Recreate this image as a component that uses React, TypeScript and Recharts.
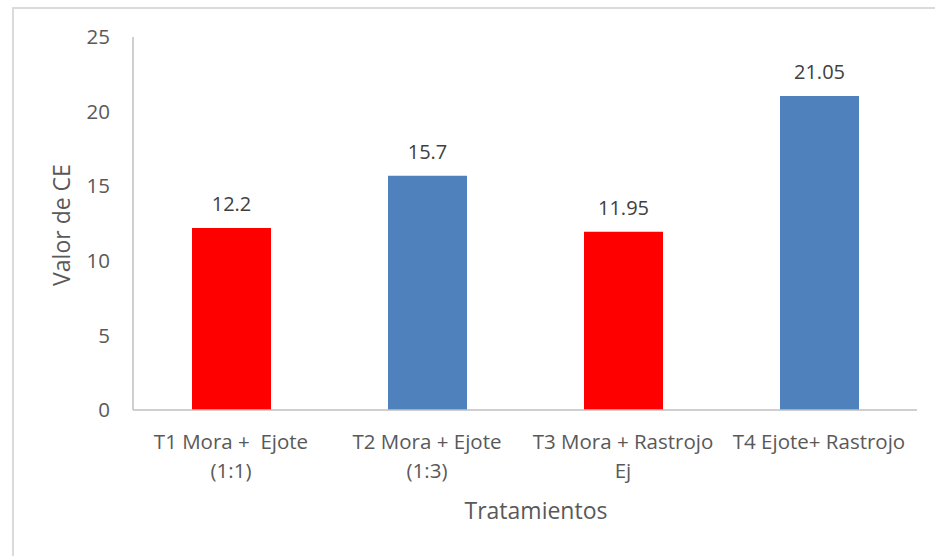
import { BarChart, Bar, XAxis, YAxis, Cell, LabelList, Label } from 'recharts';

const treatments = [
  ['T1 Mora +  Ejote', '(1:1)'],
  ['T2 Mora + Ejote', '(1:3)'],
  ['T3 Mora + Rastrojo', 'Ej'],
  ['T4 Ejote+ Rastrojo'],
];
const ceValues = [12.2, 15.7, 11.95, 21.05];
const yTicks = [0, 5, 10, 15, 20, 25];

const barColors = ['#FF0000', '#4F81BD', '#FF0000', '#4F81BD'];

const data = treatments.map((lines, i) => ({
  name: lines.join(' '),
  lines,
  ce: ceValues[i],
}));

const FONT = '"Open Sans", sans-serif';
const AXIS = '#BFBFBF';
const TICK = '#595959';

function CategoryTick({ x, y, index }: { x: number; y: number; index: number }) {
  const lines = treatments[index] ?? [];
  return (
    <text
      x={x}
      y={y}
      textAnchor="middle"
      fill={TICK}
      fontSize={20.5}
      fontFamily={FONT}
      style={{ whiteSpace: 'pre' }}
    >
      {lines.map((l, i) => (
        <tspan key={i} x={x} y={y + 39 + i * 29}>
          {l}
        </tspan>
      ))}
    </text>
  );
}

export default function App() {
  return (
    <div
      style={{
        position: 'fixed',
        left: 0,
        top: 0,
        width: 935,
        height: 556,
        overflow: 'hidden',
        background: '#fff',
      }}
    >
      <div
        style={{
          position: 'absolute',
          left: 12,
          top: 7,
          width: 1000,
          height: 1000,
          border: '2px solid #DADADA',
        }}
      />
      <div style={{ position: 'absolute', left: 0, top: 0 }}>
        <BarChart
          width={935}
          height={556}
          data={data}
          margin={{ top: 37, right: 18, left: 13, bottom: 26 }}
        >
          <XAxis
            dataKey="name"
            height={120}
            axisLine={{ stroke: AXIS, strokeWidth: 1.5 }}
            tickLine={false}
            tickSize={0}
            tickMargin={0}
            interval={0}
            tick={(p: any) => <CategoryTick x={p.x} y={p.y} index={p.index} />}
          >
            <Label
              content={() => (
                <text
                  x={536}
                  y={519}
                  textAnchor="middle"
                  fill={TICK}
                  fontSize={23}
                  fontFamily={FONT}
                >
                  Tratamientos
                </text>
              )}
            />
          </XAxis>
          <YAxis
            width={120}
            domain={[0, 25]}
            ticks={yTicks}
            interval={0}
            axisLine={{ stroke: AXIS, strokeWidth: 1.5 }}
            tickLine={false}
            tickSize={0}
            tickMargin={23}
            tick={{ fill: TICK, fontSize: 20.5, fontFamily: FONT }}
          >
            <Label
              content={() => (
                <text
                  x={0}
                  y={0}
                  transform="translate(61 225) rotate(-90)"
                  textAnchor="middle"
                  dominantBaseline="central"
                  fill={TICK}
                  fontSize={23}
                  fontFamily={FONT}
                >
                  Valor de CE
                </text>
              )}
            />
          </YAxis>
          <Bar dataKey="ce" barSize={79} isAnimationActive={false}>
            {data.map((d, i) => (
              <Cell key={d.name} fill={barColors[i]} />
            ))}
            <LabelList
              dataKey="ce"
              position="top"
              offset={17}
              fill="#404040"
              fontSize={20}
              fontFamily={FONT}
            />
          </Bar>
        </BarChart>
      </div>
    </div>
  );
}
